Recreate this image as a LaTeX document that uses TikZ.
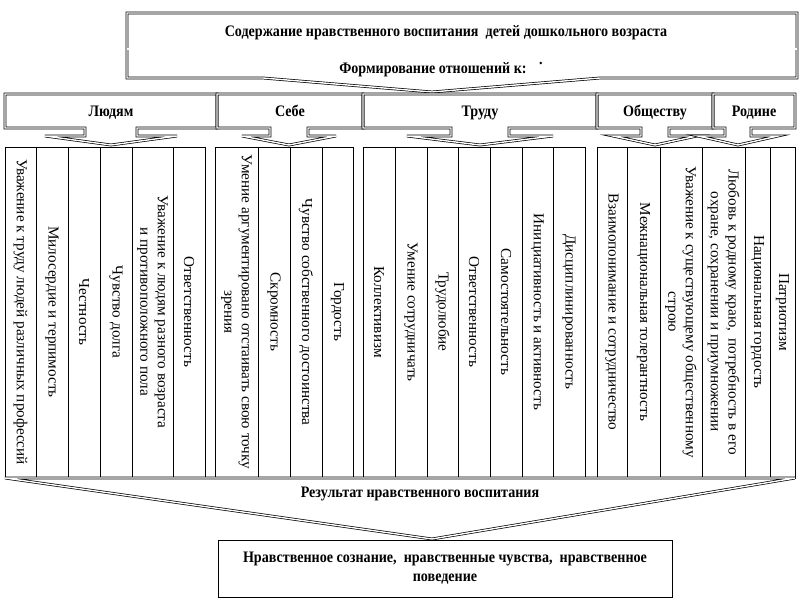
\documentclass[tikz,border=0pt]{standalone}
\usepackage{fontspec}
\setmainfont{Liberation Serif}
\newfontfamily\headfont[FakeStretch=0.88]{Liberation Serif}
\usetikzlibrary{positioning,calc}
\tikzset{
  dbl/.style={double, double distance=0.7pt, line width=0.35pt},
  head/.style={font=\headfont\bfseries\fontsize{8}{9.5}\selectfont},
  cat/.style={head, text height=6pt, text depth=1.5pt},
  item/.style={rotate=-90, align=center, inner sep=0pt, font=\fontsize{7.6}{8.8}\selectfont}
}
% callout box of the second row: name, left, right, tip x, neck, wing, text
\newcommand{\catbox}[7]{%
  \draw[dbl] (#2,94) -- (#3,94) -- (#3,128) -- ({#4+#5},128) -- ({#4+#5},136) -- ({#4+#6},136)
    -- (#4,145) -- ({#4-#6},136) -- ({#4-#5},136) -- ({#4-#5},128) -- (#2,128) -- cycle;
  \node[cat] (#1) at ({(#2+#3)/2},112) {#7};}

\begin{document}
\begin{tikzpicture}[x=0.5pt,y=-0.5pt,line width=0.4pt]
  \useasboundingbox (0,0) rectangle (800,600);
  % top block
  \draw[dbl] (127,13) -- (797,13) -- (797,78) -- (600,78) -- (432,92) -- (263,78) -- (127,78) -- cycle;
  \draw[dbl] (127,49) -- (797,49);
  \node[cat] (title) at (446,32) {Содержание нравственного воспитания\ \ детей дошкольного возраста};
  \node[cat] (form) at (433,69) {Формирование отношений к:};
  \fill ([xshift=3.5pt,yshift=3pt]form.east) circle (1.3);
  % second row
  \catbox{people}{5}{217}{111}{26}{66}{Людям}
  \catbox{self}{217}{363}{289}{19}{47}{Себе}
  \catbox{work}{363}{597}{480}{29}{73}{Труду}
  \catbox{society}{597}{713}{655}{14}{42}{Обществу}
  \catbox{homeland}{713}{795}{738}{13}{40}{Родине}
  % columns
  \foreach \xa/\xb/\txt/\nm in {
      5/36/{Уважение к труду людей различных профессий}/p1,
      36/68/{Милосердие и терпимость}/p2,
      68/100/{Честность}/p3,
      100/132/{Чувство долга}/p4,
      132/173/{Уважение к людям разного возраста\\и противоположного пола}/p5,
      173/205/{Ответственность}/p6,
      215/258/{Умение аргументировано отстаивать свою точку\\зрения}/s1,
      258/290/{Скромность}/s2,
      290/322/{Чувство собственного достоинства}/s3,
      322/353/{Гордость}/s4,
      363/395/{Коллективизм}/w1,
      395/427/{Умение сотрудничать}/w2,
      427/458/{Трудолюбие}/w3,
      458/490/{Ответственность}/w4,
      490/522/{Самостоятельность}/w5,
      522/553/{Инициативность и активность}/w6,
      553/585/{Дисциплинированность}/w7,
      597/627/{Взаимопонимание и сотрудничество}/o1,
      627/660/{Межнациональная толерантность}/o2,
      660/702/{Уважение к существующему общественному\\строю}/o3,
      702/745/{Любовь к родному краю,\ \ потребность в его\\охране, сохранении и приумножении}/h1,
      745/770/{Национальная гордость}/h2,
      770/795/{Патриотизм}/h3}{
    \draw (\xa,147) rectangle (\xb,478);
    \node[item] (\nm) at ({(\xa+\xb)/2},312) {\txt};
  }
  % result
  \draw[dbl] (5,478) -- (795,478) -- (432,539) -- cycle;
  \node[cat] (result) at (420,493) {Результат нравственного воспитания};
  \node[draw, head, align=center, minimum width=227pt, minimum height=28.5pt] (final) at (445,568.5)
    {Нравственное сознание,\ \ нравственные чувства,\ \ нравственное\\поведение};
\end{tikzpicture}
\end{document}
